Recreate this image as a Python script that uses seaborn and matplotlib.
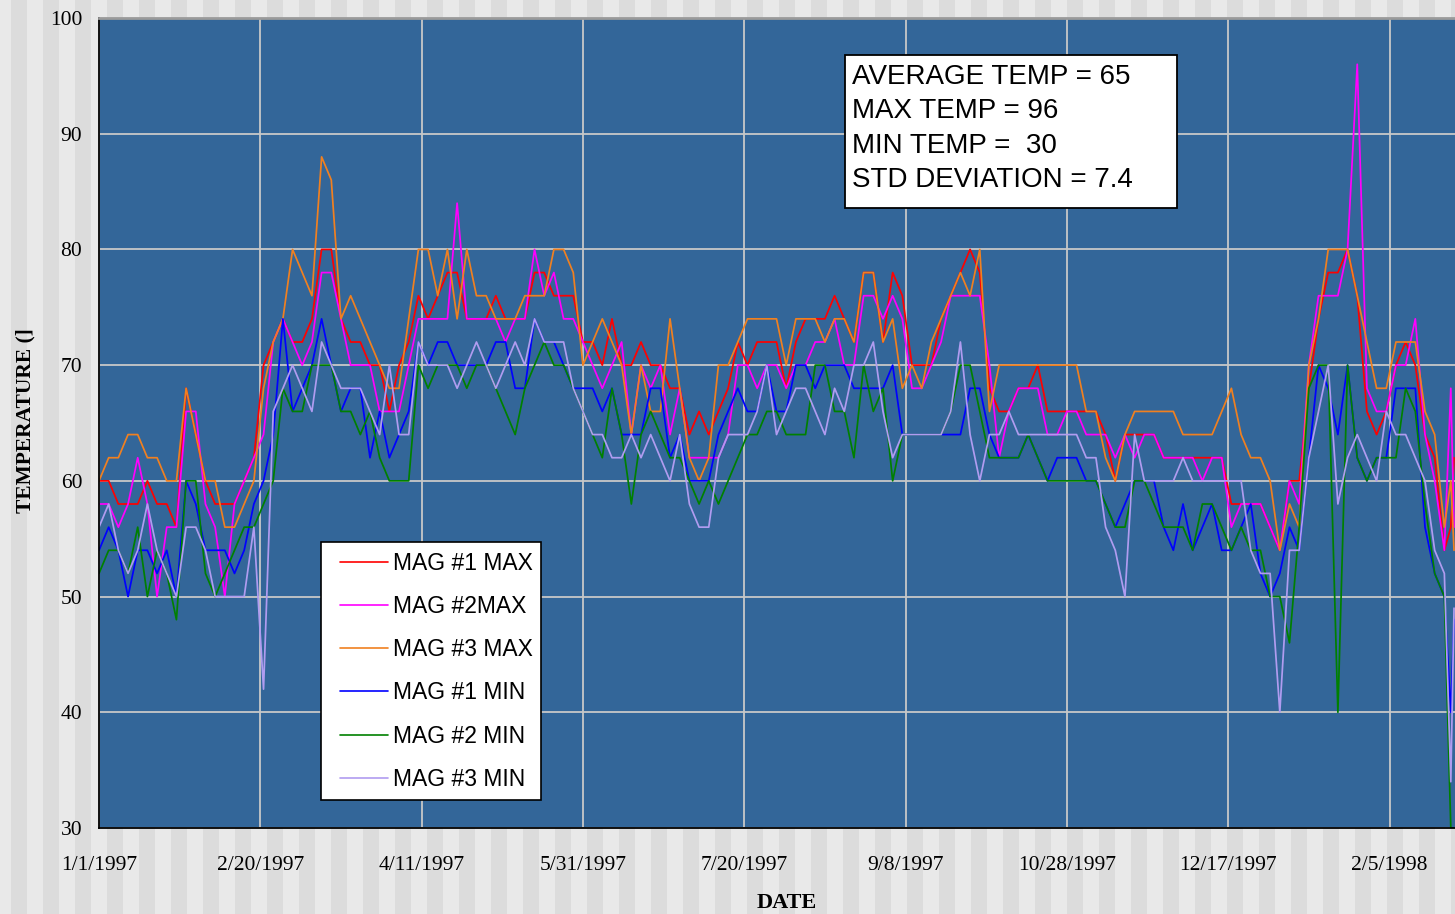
#Daily magnet temperatures (3 magnets, max and min), Jan 1997 - Feb 1998
#Values, one reading every 3rd day

import pandas as pd
import matplotlib.pyplot as plt
import seaborn as sns
from matplotlib.patches import Rectangle

# day offsets from 1/1/1997
days = list(range(0, 418, 3)) + [419, 420]

mag1_max = [60, 60, 58, 58, 58, 60, 58, 58, 56, 68, 64, 60, 58, 58, 58, 60,
            62, 70, 72, 74, 72, 72, 74, 80, 80, 74, 72, 72, 70, 70, 66, 70,
            72, 76, 74, 76, 78, 78, 74, 74, 74, 76, 74, 74, 74, 78, 78,
            76, 76, 76, 72, 72, 70, 74, 70, 70, 72, 70, 70, 68, 68, 64, 66,
            64, 66, 68, 72, 70, 72, 72, 72, 68, 72, 74, 74, 74, 76, 74,
            72, 78, 78, 72, 78, 76, 70, 70, 70, 74, 76, 78, 80, 78, 68, 66,
            66, 68, 68, 70, 66, 66, 66, 66, 66, 66, 64, 60, 64, 64, 64,
            64, 62, 62, 62, 62, 62, 62, 62, 58, 58, 58, 58, 56, 54, 60, 60,
            68, 74, 78, 78, 80, 76, 66, 64, 66, 70, 72, 70, 64, 62, 54,
            56, 62]

mag2_max = [58, 58, 56, 58, 62, 58, 50, 56, 56, 66, 66, 58, 56, 50, 58, 60,
            62, 64, 72, 74, 72, 70, 72, 78, 78, 74, 70, 70, 70, 66, 66, 66,
            70, 74, 74, 74, 74, 84, 74, 74, 74, 74, 72, 74, 74, 80, 76,
            78, 74, 74, 72, 70, 68, 70, 72, 64, 70, 68, 70, 64, 68, 62, 62,
            62, 62, 64, 70, 70, 68, 70, 70, 68, 70, 70, 72, 72, 74, 70,
            70, 76, 76, 74, 76, 74, 68, 68, 70, 72, 76, 76, 76, 76, 70, 62,
            66, 68, 68, 68, 64, 64, 66, 66, 64, 64, 64, 62, 64, 62, 64,
            64, 62, 62, 62, 62, 60, 62, 62, 56, 58, 58, 58, 56, 54, 60, 58,
            70, 76, 76, 76, 80, 96, 68, 66, 66, 70, 70, 74, 64, 60, 54,
            68, 56]

mag3_max = [60, 62, 62, 64, 64, 62, 62, 60, 60, 68, 64, 60, 60, 56, 56, 58,
            60, 68, 72, 74, 80, 78, 76, 88, 86, 74, 76, 74, 72, 70, 68, 68,
            74, 80, 80, 76, 80, 74, 80, 76, 76, 74, 74, 74, 76, 76, 76,
            80, 80, 78, 70, 72, 74, 72, 70, 64, 70, 66, 66, 74, 68, 62, 60,
            62, 70, 70, 72, 74, 74, 74, 74, 70, 74, 74, 74, 72, 74, 74,
            72, 78, 78, 72, 74, 68, 70, 68, 72, 74, 76, 78, 76, 80, 66, 70,
            70, 70, 70, 70, 70, 70, 70, 70, 66, 66, 62, 60, 64, 66, 66,
            66, 66, 66, 64, 64, 64, 64, 66, 68, 64, 62, 62, 60, 54, 58, 56,
            70, 74, 80, 80, 80, 76, 72, 68, 68, 72, 72, 72, 66, 64, 56,
            60, 54]

mag1_min = [54, 56, 54, 50, 54, 54, 52, 54, 50, 60, 58, 54, 54, 54, 52, 54,
            58, 60, 64, 74, 66, 68, 70, 74, 70, 66, 68, 68, 62, 66, 62, 64,
            66, 72, 70, 72, 72, 70, 70, 70, 70, 72, 72, 68, 68, 74, 72,
            72, 70, 68, 68, 68, 66, 68, 64, 64, 64, 68, 68, 62, 64, 60, 60,
            60, 64, 66, 68, 66, 66, 70, 66, 66, 70, 70, 68, 70, 70, 70,
            68, 68, 68, 68, 70, 64, 64, 64, 64, 64, 64, 64, 68, 68, 64, 62,
            62, 62, 64, 62, 60, 62, 62, 62, 60, 60, 58, 56, 58, 60, 60,
            60, 56, 54, 58, 54, 56, 58, 54, 54, 56, 58, 52, 50, 52, 56, 54,
            62, 70, 68, 64, 70, 62, 60, 62, 62, 68, 68, 68, 56, 52, 50,
            40, 48]

mag2_min = [52, 54, 54, 52, 56, 50, 54, 52, 48, 60, 60, 52, 50, 52, 54, 56,
            56, 58, 60, 68, 66, 66, 70, 70, 70, 66, 66, 64, 66, 62, 60, 60,
            60, 70, 68, 70, 70, 70, 68, 70, 70, 68, 66, 64, 68, 70, 72,
            70, 70, 68, 66, 64, 62, 68, 64, 58, 64, 66, 64, 62, 62, 60, 58,
            60, 58, 60, 62, 64, 64, 66, 66, 64, 64, 64, 70, 70, 66, 66,
            62, 70, 66, 68, 60, 64, 64, 64, 64, 64, 66, 70, 70, 66, 62, 62,
            62, 62, 64, 62, 60, 60, 60, 60, 60, 60, 58, 56, 56, 60, 60,
            58, 56, 56, 56, 54, 58, 58, 56, 54, 56, 54, 54, 50, 50, 46, 56,
            68, 70, 70, 40, 70, 62, 60, 62, 62, 62, 68, 66, 58, 52, 50,
            30, 30]

mag3_min = [56, 58, 54, 52, 54, 58, 54, 52, 50, 56, 56, 54, 50, 50, 50, 50,
            56, 42, 66, 68, 70, 68, 66, 72, 70, 68, 68, 68, 66, 64, 70, 64,
            64, 72, 70, 70, 70, 68, 70, 72, 70, 68, 70, 72, 70, 74, 72,
            72, 72, 68, 66, 64, 64, 62, 62, 64, 62, 64, 62, 60, 64, 58, 56,
            56, 62, 64, 64, 64, 66, 70, 64, 66, 68, 68, 66, 64, 68, 66,
            70, 70, 72, 66, 62, 64, 64, 64, 64, 64, 66, 72, 64, 60, 64, 64,
            66, 64, 64, 64, 64, 64, 64, 64, 62, 62, 56, 54, 50, 64, 60,
            60, 60, 60, 62, 60, 60, 60, 60, 60, 60, 54, 52, 52, 40, 54, 54,
            62, 66, 70, 58, 62, 64, 62, 60, 66, 64, 64, 62, 60, 54, 52,
            34, 49]

series_names = ["MAG #1 MAX", "MAG #2MAX", "MAG #3 MAX",
                "MAG #1 MIN", "MAG #2 MIN", "MAG #3 MIN"]
series_colors = ["#ff0000", "#ff00ff", "#f08020",
                 "#0000ff", "#008000", "#b09cf0"]

tick_days = [0, 50, 100, 150, 200, 250, 300, 350, 400]
tick_labels = ["1/1/1997", "2/20/1997", "4/11/1997", "5/31/1997", "7/20/1997",
               "9/8/1997", "10/28/1997", "12/17/1997", "2/5/1998"]

stats_text = "AVERAGE TEMP = 65\nMAX TEMP = 96\nMIN TEMP =  30\nSTD DEVIATION = 7.4"


def build_frame():
    # long format so seaborn can colour by series
    frames = []
    all_vals = [mag1_max, mag2_max, mag3_max, mag1_min, mag2_min, mag3_min]
    for name, vals in zip(series_names, all_vals):
        frames.append(pd.DataFrame({"day": days, "temp": vals, "series": name}))
    return pd.concat(frames, ignore_index=True)


df = build_frame()

sns.set_style("white", rc={"text.color": "black", "xtick.color": "black",
                           "ytick.color": "black", "axes.labelcolor": "black"})
W, H = 1455, 914
fig = plt.figure(figsize=(W / 100, H / 100), dpi=100)
fig.patch.set_facecolor("#e9e9e9")

# striped grey background
for x0 in range(11, W, 32):
    fig.add_artist(Rectangle((x0 / W, 0), 16 / W, 1, transform=fig.transFigure,
                             facecolor="#dcdcdc", edgecolor="none", zorder=-5))

ax = fig.add_axes([99 / W, (H - 828) / H, 1356 / W, 810 / H])
ax.set_facecolor("#336699")

sns.lineplot(data=df, x="day", y="temp", hue="series", hue_order=series_names,
             palette=dict(zip(series_names, series_colors)), estimator=None,
             linewidth=1.25, ax=ax)

ax.set_xlim(0, 420.3)
ax.set_ylim(30, 100)
ax.set_xticks(tick_days)
ax.set_xticklabels(tick_labels, family="Liberation Serif", fontsize=15.5)
ax.set_yticks(range(30, 101, 10))
ax.set_yticklabels([str(v) for v in range(30, 101, 10)],
                   family="Liberation Serif", fontsize=15.5)
ax.tick_params(axis="x", direction="out", length=5, width=1, pad=15.5)
ax.tick_params(axis="y", direction="out", length=5, width=1, pad=7)
ax.set_xlabel("")
ax.set_ylabel("")

ax.grid(True, color="#c8c8c8", linewidth=1.3)
ax.set_axisbelow(True)

for side in ["left", "bottom"]:
    ax.spines[side].set_color("black")
    ax.spines[side].set_linewidth(1.3)
ax.spines["top"].set_color("#9a9a9a")
ax.spines["top"].set_linewidth(2)
ax.spines["right"].set_visible(False)

# legend: white box drawn separately, entries placed inside it
ax.add_patch(Rectangle((0.1637, 0.0346), 0.1622, 0.3185, transform=ax.transAxes,
                       facecolor="white", edgecolor="black", linewidth=1.2, zorder=4))
handles, labels = ax.get_legend_handles_labels()
leg = ax.legend(handles, labels, loc="upper left", bbox_to_anchor=(0.1777, 0.3412),
                borderaxespad=0, borderpad=0, frameon=False, handlelength=2.1,
                handletextpad=0.22, labelspacing=0.885,
                prop={"family": "Liberation Sans", "size": 16.5})
leg.set_zorder(5)
for line in leg.get_lines():
    line.set_linewidth(1.2)

# stats box
ax.add_patch(Rectangle((0.5501, 0.7654), 0.2449, 0.1889, transform=ax.transAxes,
                       facecolor="white", edgecolor="black", linewidth=1.3, zorder=4))
ax.text(0.5553, 0.9433, stats_text, transform=ax.transAxes, ha="left", va="top",
        family="Liberation Sans", fontsize=20, linespacing=1.42, color="black",
        zorder=5)

fig.text(25 / W, 1 - 421 / H, "TEMPERATURE (]", rotation=90, ha="center", va="center",
         family="Liberation Serif", fontweight="bold", fontsize=15.5)
fig.text(787 / W, 1 - 903 / H, "DATE", ha="center", va="center",
         family="Liberation Serif", fontweight="bold", fontsize=16)

plt.savefig("out.png", dpi=100, facecolor=fig.get_facecolor())
